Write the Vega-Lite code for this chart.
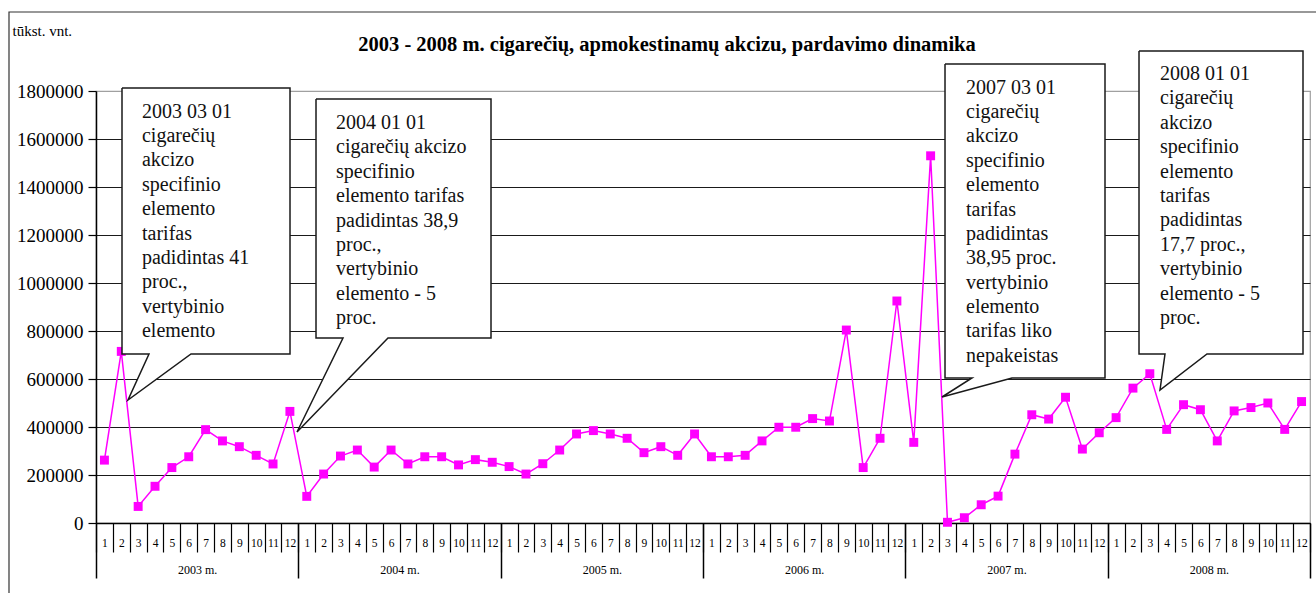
{
  "$schema": "https://vega.github.io/schema/vega-lite/v6.json",
  "autosize": {"type": "none"},
  "width": 1214,
  "height": 432,
  "padding": {"left": 96, "top": 91, "right": 6, "bottom": 70},
  "background": "white",
  "config": {
    "font": "'Liberation Serif', 'Times New Roman', serif",
    "view": {"stroke": "#a0a0a0", "strokeWidth": 1.2}
  },
  "datasets": {
    "sales": [
      {"i":0,"year":2003,"month":1,"v":262000},{"i":1,"year":2003,"month":2,"v":715000},{"i":2,"year":2003,"month":3,"v":69000},{"i":3,"year":2003,"month":4,"v":153000},{"i":4,"year":2003,"month":5,"v":231000},{"i":5,"year":2003,"month":6,"v":276000},{"i":6,"year":2003,"month":7,"v":389000},{"i":7,"year":2003,"month":8,"v":342000},{"i":8,"year":2003,"month":9,"v":318000},{"i":9,"year":2003,"month":10,"v":282000},{"i":10,"year":2003,"month":11,"v":246000},{"i":11,"year":2003,"month":12,"v":465000},
      {"i":12,"year":2004,"month":1,"v":111000},{"i":13,"year":2004,"month":2,"v":204000},{"i":14,"year":2004,"month":3,"v":279000},{"i":15,"year":2004,"month":4,"v":304000},{"i":16,"year":2004,"month":5,"v":233000},{"i":17,"year":2004,"month":6,"v":304000},{"i":18,"year":2004,"month":7,"v":246000},{"i":19,"year":2004,"month":8,"v":276000},{"i":20,"year":2004,"month":9,"v":276000},{"i":21,"year":2004,"month":10,"v":242000},{"i":22,"year":2004,"month":11,"v":264000},{"i":23,"year":2004,"month":12,"v":253000},
      {"i":24,"year":2005,"month":1,"v":235000},{"i":25,"year":2005,"month":2,"v":204000},{"i":26,"year":2005,"month":3,"v":247000},{"i":27,"year":2005,"month":4,"v":304000},{"i":28,"year":2005,"month":5,"v":371000},{"i":29,"year":2005,"month":6,"v":385000},{"i":30,"year":2005,"month":7,"v":371000},{"i":31,"year":2005,"month":8,"v":353000},{"i":32,"year":2005,"month":9,"v":293000},{"i":33,"year":2005,"month":10,"v":318000},{"i":34,"year":2005,"month":11,"v":282000},{"i":35,"year":2005,"month":12,"v":371000},
      {"i":36,"year":2006,"month":1,"v":276000},{"i":37,"year":2006,"month":2,"v":276000},{"i":38,"year":2006,"month":3,"v":282000},{"i":39,"year":2006,"month":4,"v":342000},{"i":40,"year":2006,"month":5,"v":399000},{"i":41,"year":2006,"month":6,"v":399000},{"i":42,"year":2006,"month":7,"v":435000},{"i":43,"year":2006,"month":8,"v":425000},{"i":44,"year":2006,"month":9,"v":804000},{"i":45,"year":2006,"month":10,"v":231000},{"i":46,"year":2006,"month":11,"v":353000},{"i":47,"year":2006,"month":12,"v":925000},
      {"i":48,"year":2007,"month":1,"v":336000},{"i":49,"year":2007,"month":2,"v":1530000},{"i":50,"year":2007,"month":3,"v":3000},{"i":51,"year":2007,"month":4,"v":22000},{"i":52,"year":2007,"month":5,"v":76000},{"i":53,"year":2007,"month":6,"v":112000},{"i":54,"year":2007,"month":7,"v":287000},{"i":55,"year":2007,"month":8,"v":451000},{"i":56,"year":2007,"month":9,"v":433000},{"i":57,"year":2007,"month":10,"v":524000},{"i":58,"year":2007,"month":11,"v":308000},{"i":59,"year":2007,"month":12,"v":376000},
      {"i":60,"year":2008,"month":1,"v":439000},{"i":61,"year":2008,"month":2,"v":562000},{"i":62,"year":2008,"month":3,"v":622000},{"i":63,"year":2008,"month":4,"v":390000},{"i":64,"year":2008,"month":5,"v":493000},{"i":65,"year":2008,"month":6,"v":472000},{"i":66,"year":2008,"month":7,"v":342000},{"i":67,"year":2008,"month":8,"v":467000},{"i":68,"year":2008,"month":9,"v":481000},{"i":69,"year":2008,"month":10,"v":500000},{"i":70,"year":2008,"month":11,"v":390000},{"i":71,"year":2008,"month":12,"v":506000}
    ],
    "bubbles": [
      {"id":"2003","k":0,"i":1.042,"v":1812500},{"id":"2003","k":1,"i":11.006,"v":1812500},{"id":"2003","k":2,"i":11.006,"v":704167},{"id":"2003","k":3,"i":5.134,"v":704167},{"id":"2003","k":4,"i":1.398,"v":512500},{"id":"2003","k":5,"i":2.643,"v":704167},{"id":"2003","k":6,"i":1.042,"v":704167},{"id":"2003","k":7,"i":1.042,"v":1812500},
      {"id":"2004","k":0,"i":12.548,"v":1766667},{"id":"2004","k":1,"i":22.927,"v":1766667},{"id":"2004","k":2,"i":22.927,"v":770833},{"id":"2004","k":3,"i":16.818,"v":770833},{"id":"2004","k":4,"i":11.421,"v":379167},{"id":"2004","k":5,"i":14.149,"v":770833},{"id":"2004","k":6,"i":12.548,"v":770833},{"id":"2004","k":7,"i":12.548,"v":1766667},
      {"id":"2007","k":0,"i":49.853,"v":1912500},{"id":"2007","k":1,"i":59.342,"v":1912500},{"id":"2007","k":2,"i":59.342,"v":604167},{"id":"2007","k":3,"i":53.826,"v":604167},{"id":"2007","k":4,"i":49.675,"v":525000},{"id":"2007","k":5,"i":51.454,"v":604167},{"id":"2007","k":6,"i":49.853,"v":604167},{"id":"2007","k":7,"i":49.853,"v":1912500},
      {"id":"2008","k":0,"i":61.359,"v":1966667},{"id":"2008","k":1,"i":71.085,"v":1966667},{"id":"2008","k":2,"i":71.085,"v":704167},{"id":"2008","k":3,"i":65.391,"v":704167},{"id":"2008","k":4,"i":62.604,"v":554167},{"id":"2008","k":5,"i":62.9,"v":704167},{"id":"2008","k":6,"i":61.359,"v":704167},{"id":"2008","k":7,"i":61.359,"v":1966667}
    ],
    "notes": [
      {"id":"2003","i":2.228,"v":1756250,"label":"2003 03 01\ncigarečių\nakcizo\nspecifinio\nelemento\ntarifas\npadidintas 41\nproc.,\nvertybinio\nelemento"},
      {"id":"2004","i":13.734,"v":1708333,"label":"2004 01 01\ncigarečių akcizo\nspecifinio\nelemento tarifas\npadidintas 38,9\nproc.,\nvertybinio\nelemento - 5\nproc."},
      {"id":"2007","i":51.098,"v":1856250,"label":"\u00a02007 03 01\ncigarečių\nakcizo\nspecifinio\nelemento\ntarifas\npadidintas\n38,95 proc.\nvertybinio\nelemento\ntarifas liko\nnepakeistas"},
      {"id":"2008","i":62.604,"v":1912500,"label":"2008 01 01\ncigarečių\nakcizo\nspecifinio\nelemento\ntarifas\npadidintas\n17,7 proc.,\nvertybinio\nelemento - 5\nproc."}
    ]
  },
  "resolve": {"axis": {"x": "independent", "y": "independent"}},
  "layer": [
    {
      "data": {"values": [{}]},
      "mark": {"type": "rect", "filled": false, "color": "#333333", "strokeWidth": 1.2},
      "encoding": {
        "x": {"datum": -5.66, "type": "quantitative", "axis": null, "scale": {"domain": [-0.5, 71.5], "nice": false, "zero": false}},
        "x2": {"datum": 72.09},
        "y": {"datum": 2129167, "type": "quantitative", "axis": null, "scale": {"domain": [0, 1800000], "nice": false, "zero": false}},
        "y2": {"datum": -320833}
      }
    },
    {
      "data": {"name": "sales"},
      "mark": {"type": "line", "color": "#ff00ff", "strokeWidth": 1.5},
      "encoding": {
        "x": {
          "field": "i", "type": "quantitative",
          "scale": {"domain": [-0.5, 71.5], "nice": false, "zero": false},
          "axis": {
            "orient": "bottom", "title": null, "grid": false, "labels": false,
            "values": [-0.5,0.5,1.5,2.5,3.5,4.5,5.5,6.5,7.5,8.5,9.5,10.5,11.5,12.5,13.5,14.5,15.5,16.5,17.5,18.5,19.5,20.5,21.5,22.5,23.5,24.5,25.5,26.5,27.5,28.5,29.5,30.5,31.5,32.5,33.5,34.5,35.5,36.5,37.5,38.5,39.5,40.5,41.5,42.5,43.5,44.5,45.5,46.5,47.5,48.5,49.5,50.5,51.5,52.5,53.5,54.5,55.5,56.5,57.5,58.5,59.5,60.5,61.5,62.5,63.5,64.5,65.5,66.5,67.5,68.5,69.5,70.5,71.5],
            "ticks": true, "tickSize": 29, "tickColor": "#000000", "tickWidth": 1.2,
            "domain": true, "domainColor": "#000000", "domainWidth": 1.5
          }
        },
        "y": {
          "field": "v", "type": "quantitative",
          "scale": {"domain": [0, 1800000], "nice": false, "zero": false},
          "axis": {
            "values": [0,200000,400000,600000,800000,1000000,1200000,1400000,1600000,1800000],
            "format": "d",
            "labelFont": "'Liberation Serif', 'Times New Roman', serif", "labelFontSize": 19, "labelColor": "#000000", "labelPadding": 5,
            "tickSize": 8, "tickColor": "#000000", "tickWidth": 1.2,
            "domain": true, "domainColor": "#000000", "domainWidth": 1.5,
            "grid": true,
            "gridColor": {"condition": {"test": "datum.value >= 1800000", "value": "#a0a0a0"}, "value": "#1a1a1a"},
            "gridWidth": 1.1,
            "title": "tūkst. vnt.",
            "titleAngle": 0, "titleX": -84, "titleY": -61, "titleAlign": "left", "titleBaseline": "middle",
            "titleFont": "'Liberation Serif', 'Times New Roman', serif", "titleFontSize": 15, "titleFontWeight": "normal", "titleColor": "#000000"
          }
        }
      }
    },
    {
      "data": {"name": "sales"},
      "mark": {"type": "point", "shape": "square", "filled": true, "color": "#ff00ff", "size": 80, "opacity": 1},
      "encoding": {
        "x": {
          "field": "i", "type": "quantitative",
          "axis": {
            "orient": "bottom", "title": null, "grid": false, "domain": false,
            "ticks": false, "tickSize": 0,
            "values": [0,1,2,3,4,5,6,7,8,9,10,11,12,13,14,15,16,17,18,19,20,21,22,23,24,25,26,27,28,29,30,31,32,33,34,35,36,37,38,39,40,41,42,43,44,45,46,47,48,49,50,51,52,53,54,55,56,57,58,59,60,61,62,63,64,65,66,67,68,69,70,71],
            "labelExpr": "(round(datum.value) % 12) + 1",
            "labelFont": "'Liberation Serif', 'Times New Roman', serif", "labelFontSize": 11.5, "labelColor": "#000000",
            "labelPadding": 14, "labelFlush": false, "labelOverlap": false, "labelBound": false
          }
        },
        "y": {"field": "v", "type": "quantitative", "axis": null}
      }
    },
    {
      "data": {"name": "bubbles"},
      "mark": {"type": "line", "fill": "white", "stroke": "#1a1a1a", "strokeWidth": 1.5, "strokeJoin": "miter"},
      "encoding": {
        "x": {
          "field": "i", "type": "quantitative",
          "axis": {
            "orient": "bottom", "title": null, "grid": false, "domain": false, "labels": false,
            "values": [-0.5, 11.5, 23.5, 35.5, 47.5, 59.5, 71.5],
            "ticks": true, "tickSize": 55, "tickColor": "#000000", "tickWidth": 1.5
          }
        },
        "y": {"field": "v", "type": "quantitative", "axis": null},
        "detail": {"field": "id"},
        "order": {"field": "k", "type": "quantitative"}
      }
    },
    {
      "data": {"name": "notes"},
      "mark": {"type": "text", "align": "left", "baseline": "top", "font": "'Liberation Serif', 'Times New Roman', serif", "fontSize": 20, "lineHeight": 24.4, "lineBreak": "\n", "color": "#111111"},
      "encoding": {
        "x": {
          "field": "i", "type": "quantitative",
          "axis": {
            "orient": "bottom", "title": null, "grid": false, "domain": false,
            "ticks": false, "tickSize": 0,
            "values": [5.5, 17.5, 29.5, 41.5, 53.5, 65.5],
            "labelExpr": "(2003 + floor((datum.value + 0.5) / 12)) + ' m.'",
            "labelFont": "'Liberation Serif', 'Times New Roman', serif", "labelFontSize": 12, "labelColor": "#000000",
            "labelPadding": 41, "labelFlush": false, "labelOverlap": false, "labelBound": false
          }
        },
        "y": {"field": "v", "type": "quantitative", "axis": null},
        "text": {"field": "label"}
      }
    },
    {
      "data": {"values": [{}]},
      "mark": {"type": "text", "text": "2003 - 2008 m. cigarečių, apmokestinamų akcizu, pardavimo dinamika", "font": "'Liberation Serif', 'Times New Roman', serif", "fontSize": 20.5, "fontWeight": "bold", "align": "center", "baseline": "alphabetic", "color": "#000000"},
      "encoding": {
        "x": {"datum": 33.365, "type": "quantitative", "axis": null},
        "y": {"datum": 1966667, "type": "quantitative", "axis": null}
      }
    }
  ]
}
